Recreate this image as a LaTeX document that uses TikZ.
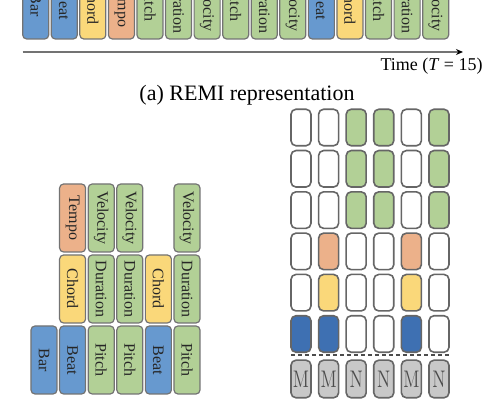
\documentclass[tikz,border=0pt]{standalone}
\usepackage[no-math]{fontspec}
\setmainfont{Liberation Serif}
\usetikzlibrary{arrows.meta}
\definecolor{barblue}{RGB}{103,153,207}
\definecolor{darkblue}{RGB}{62,112,178}
\definecolor{notegreen}{RGB}{178,208,150}
\definecolor{chordyellow}{RGB}{250,216,122}
\definecolor{tempoorange}{RGB}{236,177,138}
\definecolor{maskgray}{RGB}{200,200,200}
\definecolor{edgegray}{RGB}{115,115,115}
\tikzset{
  tok/.style={draw=edgegray, line width=0.6pt, rounded corners=2pt, rotate=-90,
    minimum width=34pt, minimum height=13pt, inner sep=0pt,
    text=black!85, font=\fontsize{8}{9}\selectfont},
  cell/.style={draw=black!60, line width=0.8pt, rounded corners=2.5pt,
    minimum width=10pt, minimum height=18.25pt, inner sep=0pt},
  mask/.style={cell, fill=maskgray, minimum height=18.8pt, text=black!70,
    font=\fontsize{12.4}{14}\selectfont}
}
\begin{document}
\begin{tikzpicture}[x=0.5pt,y=-0.5pt]
\useasboundingbox (0,0) rectangle (495,400);
% (a) REMI: one token per time step
\foreach \lab/\col [count=\i from 0] in {Bar/barblue,Beat/barblue,Chord/chordyellow,Tempo/tempoorange,
  Pitch/notegreen,Duration/notegreen,Velocity/notegreen,Pitch/notegreen,Duration/notegreen,
  Velocity/notegreen,Beat/barblue,Chord/chordyellow,Pitch/notegreen,Duration/notegreen,Velocity/notegreen}
  \node [tok, fill=\col] (r\i) at (35.7+28.57*\i,5) {\lab};
\coordinate (t0) at (22.7,52);
\coordinate (t1) at (463,52);
\draw [edgegray, line width=0.6pt, -{Stealth[length=3.5pt,width=3pt,black]}] (t0) -- (t1);
\node [anchor=east, font=\fontsize{9}{11}\selectfont, inner sep=0pt] (time) at (483,66) {Time (\textit{T} = 15)};
\node [font=\fontsize{11}{13}\selectfont, inner sep=0pt] (capa) at (247,95) {(a) REMI representation};
% compound words
\node [tok, fill=barblue] (bar) at (44,360) {Bar};
\node [tok, fill=tempoorange] (tempo1) at (72.6,218) {Tempo};
\node [tok, fill=chordyellow] (chord1) at (72.6,289) {Chord};
\node [tok, fill=barblue] (beat1) at (72.6,360) {Beat};
\node [tok, fill=notegreen] (vel1) at (101.2,218) {Velocity};
\node [tok, fill=notegreen] (dur1) at (101.2,289) {Duration};
\node [tok, fill=notegreen] (pitch1) at (101.2,360) {Pitch};
\node [tok, fill=notegreen] (vel2) at (129.8,218) {Velocity};
\node [tok, fill=notegreen] (dur2) at (129.8,289) {Duration};
\node [tok, fill=notegreen] (pitch2) at (129.8,360) {Pitch};
\node [tok, fill=chordyellow] (chord2) at (158.4,289) {Chord};
\node [tok, fill=barblue] (beat2) at (158.4,360) {Beat};
\node [tok, fill=notegreen] (vel3) at (187,218) {Velocity};
\node [tok, fill=notegreen] (dur3) at (187,289) {Duration};
\node [tok, fill=notegreen] (pitch3) at (187,360) {Pitch};
% token grid
\foreach \row [count=\k from 0] in {{white,white,notegreen,notegreen,white,notegreen},
  {white,white,notegreen,notegreen,white,notegreen},{white,white,notegreen,notegreen,white,notegreen},
  {white,tempoorange,white,white,tempoorange,white},{white,chordyellow,white,white,chordyellow,white},
  {darkblue,darkblue,white,white,darkblue,white}}
  \foreach \c [count=\j from 0] in \row
    \node [cell, fill=\c] (c\k\j) at (301+27.6*\j,127.5+41.3*\k) {};
\coordinate (d0) at (291,355);
\coordinate (d1) at (449,355);
\draw [black!70, line width=0.7pt, dash pattern=on 2pt off 1.5pt] (d0) -- (d1);
\foreach \t [count=\j from 0] in {M,M,N,N,M,N}
  \node [mask] (m\j) at (301+27.6*\j,379) {\scalebox{0.75}[1]{$\mathrm{\t}$}};
\end{tikzpicture}
\end{document}
